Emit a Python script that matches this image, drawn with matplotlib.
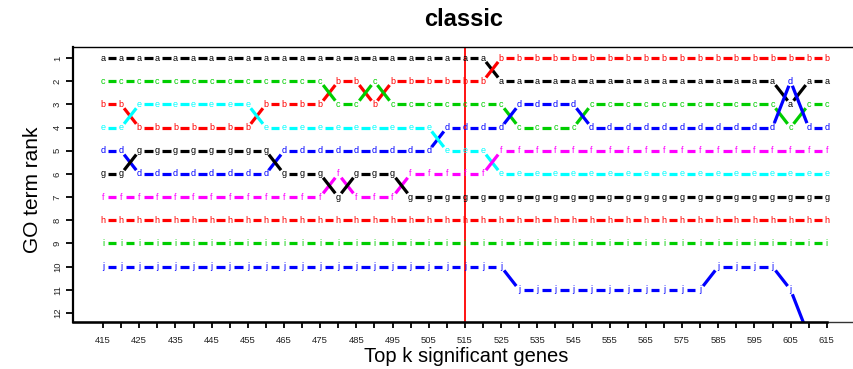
import numpy as np
import matplotlib
matplotlib.use('Agg')
import matplotlib.pyplot as plt
from matplotlib.ticker import FixedLocator

plt.rcParams['font.family'] = ['Liberation Sans', 'DejaVu Sans']

# Top k significant genes
k_values = list(range(415, 616, 5))
k_labels = list(range(415, 616, 10))

# GO term ranks for each term along k
ranks_a = [1] * 22 + [2] * 16 + [3] + [2] * 2
ranks_b = [3] * 2 + [4] * 7 + [3] * 4 + [2] * 2 + [3] + [2] * 6 + [1] * 19
ranks_c = [2] * 13 + [3] * 2 + [2] + [3] * 7 + [4] * 4 + [3] * 11 + [4] + [3] * 2
ranks_d = [5] * 2 + [6] * 8 + [5] * 9 + [4] * 4 + [3] * 4 + [4] * 11 + [2] + [4] * 2
ranks_e = [4] * 2 + [3] * 7 + [4] * 10 + [5] * 3 + [6] * 19
ranks_f = [7] * 13 + [6] + [7] * 3 + [6] * 5 + [5] * 19
ranks_g = [6] * 2 + [5] * 8 + [6] * 3 + [7] + [6] * 3 + [7] * 24
ranks_h = [8] * 41
ranks_i = [9] * 41
ranks_j = [10] * 23 + [11] * 11 + [10] * 4 + [11] + [13] * 2

terms = ['a', 'b', 'c', 'd', 'e', 'f', 'g', 'h', 'i', 'j']
all_ranks = [ranks_a, ranks_b, ranks_c, ranks_d, ranks_e,
             ranks_f, ranks_g, ranks_h, ranks_i, ranks_j]
palette = ['black', '#FF0000', '#00CD00', '#0000FF', '#00FFFF', '#FF00FF']

cutoff = 515
max_rank = 12

fig = plt.figure(figsize=(8.54, 3.69), dpi=100)
ax = fig.add_axes([73 / 854, 47 / 369, 790 / 854, 275 / 369])
ax.set_xlim(406.7, 625)
ax.set_ylim(12.39, 0.52)

# R style type="b": lines with gaps around the letters
gap = 4.8  # pixels
for n, (term, r) in enumerate(zip(terms, all_ranks)):
    col = palette[n % len(palette)]
    pts = ax.transData.transform(np.column_stack([k_values, r]))
    for p0, p1 in zip(pts[:-1], pts[1:]):
        d = p1 - p0
        L = np.hypot(*d)
        if L <= 2 * gap:
            continue
        u = d / L
        seg = ax.transData.inverted().transform([p0 + u * gap, p1 - u * gap])
        ax.plot(seg[:, 0], seg[:, 1], color=col, lw=2.3,
                solid_capstyle='butt', zorder=2)
    for x, y in zip(k_values, r):
        if y > max_rank:
            continue
        ax.text(x, y, term, color=col, fontsize=6.5, ha='center',
                va='center', clip_on=True, zorder=3)

ax.axvline(cutoff, color='#FF0000', lw=1.3, zorder=1)

# axes styling
ax.spines['right'].set_visible(False)
ax.spines['top'].set_linewidth(1.0)
ax.spines['left'].set_linewidth(1.6)
ax.spines['bottom'].set_linewidth(1.0)
ax.spines['bottom'].set_color('#333333')
ax.plot([406.7, 615], [0, 0], color='black', lw=1.8,
        transform=ax.get_xaxis_transform(), clip_on=False, zorder=4)

ax.set_xticks(k_labels)
ax.set_xticklabels([str(k) for k in k_labels], fontsize=6.8, color='#222222')
ax.xaxis.set_minor_locator(FixedLocator([k for k in k_values if k not in k_labels]))
ax.set_yticks(range(1, 13))
ax.set_yticklabels([str(v) for v in range(1, 13)], rotation=90,
                   fontsize=6.8, va='center', color='#222222')
ax.tick_params(axis='x', which='both', length=4, width=1.3, pad=6)
ax.tick_params(axis='y', length=5, width=1.3, pad=3)

fig.text(464 / 854, 1 - 20 / 369, 'classic', ha='center', va='center',
         fontsize=17, fontweight='bold')
fig.text(466 / 854, 1 - 357 / 369, 'Top k significant genes', ha='center',
         va='center', fontsize=14.5)
fig.text(33 / 854, 1 - 190 / 369, 'GO term rank', ha='center', va='center',
         rotation=90, fontsize=15)

fig.savefig('out.png', dpi=100)
